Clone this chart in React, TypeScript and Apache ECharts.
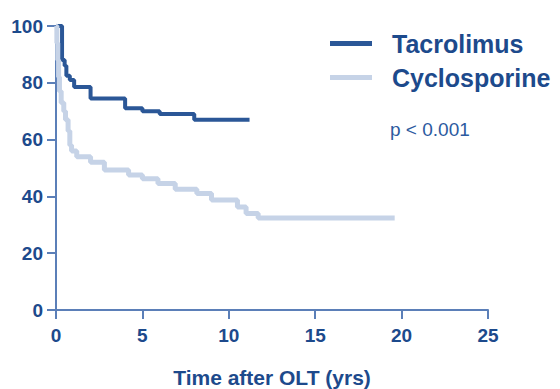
import React, { useEffect, useRef } from "react";
import * as echarts from "echarts";

// Kaplan–Meier survival (%) by years after OLT
const tacrolimusTimes = [0, 0.35, 0.5, 0.6, 0.8, 1.05, 2.0, 4.0, 5.0, 6.0, 8.0, 11.2];
const tacrolimusSurvival = [100, 88, 86, 82.5, 81, 78.5, 74.5, 71, 70, 69, 67, 67];

const cyclosporineTimes = [
  0, 0.05, 0.1, 0.15, 0.2, 0.3, 0.45, 0.55, 0.7, 0.8, 0.9, 1.2, 2.0, 2.8, 4.2, 5.0,
  5.9, 6.9, 8.15, 9.0, 10.5, 11.0, 11.7, 19.6,
];
const cyclosporineSurvival = [
  100, 94, 88, 82, 77, 73, 70, 67, 63, 58, 56, 54, 52, 49.3, 47.5, 46.2,
  44.5, 42.5, 41, 38.7, 36.3, 34, 32.4, 32.4,
];

const xTicks = [0, 5, 10, 15, 20, 25];
const yTicks = [0, 20, 40, 60, 80, 100];

const seriesNames = ["Tacrolimus", "Cyclosporine"];
const pValueText = "p < 0.001";
const xAxisTitle = "Time after OLT (yrs)";

const DARK = "#2b5797";
const LIGHT = "#c6d3e7";
const AXIS = "#5b7fb8";
const TEXT = "#1d4a8c";
const FONT = "'Liberation Sans', Arial, sans-serif";

const zip = (xs: number[], ys: number[]) => xs.map((x, i) => [x, ys[i]]);

export default function App() {
  const ref = useRef<HTMLDivElement>(null);

  useEffect(() => {
    if (!ref.current) return;
    const chart = echarts.init(ref.current, undefined, { renderer: "svg" });
    chart.setOption({
      animation: false,
      backgroundColor: "#ffffff",
      grid: {
        left: 56,
        right: 72,
        top: 26,
        bottom: 79,
        outerBoundsMode: "none",
      },
      legend: {
        orient: "vertical",
        left: 325,
        top: 26,
        itemWidth: 42,
        itemHeight: 5,
        itemGap: 9,
        icon: "rect",
        data: seriesNames,
        textStyle: {
          fontFamily: FONT,
          fontWeight: "bold",
          fontSize: 25,
          color: TEXT,
          padding: [0, 0, 0, 15],
        },
      },
      graphic: [
        {
          type: "text",
          left: 390,
          top: 120,
          style: {
            text: pValueText,
            fontFamily: FONT,
            fontSize: 19,
            fill: "#2c5aa0",
          },
        },
      ],
      xAxis: {
        type: "value",
        min: 0,
        max: 25,
        interval: 5,
        name: xAxisTitle,
        nameLocation: "middle",
        nameGap: 57,
        nameTextStyle: {
          fontFamily: FONT,
          fontWeight: "bold",
          fontSize: 21,
          color: TEXT,
        },
        splitLine: { show: false },
        axisLine: { lineStyle: { color: AXIS, width: 2 } },
        axisTick: { show: true, length: 9, lineStyle: { color: AXIS, width: 2 } },
        axisLabel: {
          margin: 16,
          fontFamily: FONT,
          fontWeight: "bold",
          fontSize: 19,
          color: TEXT,
          customValues: xTicks,
        },
      },
      yAxis: {
        type: "value",
        min: 0,
        max: 100,
        interval: 20,
        splitLine: { show: false },
        axisLine: { show: true, lineStyle: { color: AXIS, width: 2 } },
        axisTick: { show: true, length: 9, lineStyle: { color: AXIS, width: 2 } },
        axisLabel: {
          margin: 13,
          fontFamily: FONT,
          fontWeight: "bold",
          fontSize: 19,
          color: TEXT,
          customValues: yTicks,
        },
      },
      series: [
        {
          name: seriesNames[1],
          type: "line",
          step: "end",
          showSymbol: false,
          symbol: "none",
          color: LIGHT,
          lineStyle: { color: LIGHT, width: 5 },
          data: zip(cyclosporineTimes, cyclosporineSurvival),
          z: 3,
        },
        {
          name: seriesNames[0],
          type: "line",
          step: "end",
          showSymbol: false,
          symbol: "none",
          color: DARK,
          lineStyle: { color: DARK, width: 4 },
          data: zip(tacrolimusTimes, tacrolimusSurvival),
          z: 2,
        },
      ],
    });
    return () => chart.dispose();
  }, []);

  return (
    <div
      ref={ref}
      style={{ position: "absolute", left: 0, top: 0, width: 560, height: 389 }}
    />
  );
}
